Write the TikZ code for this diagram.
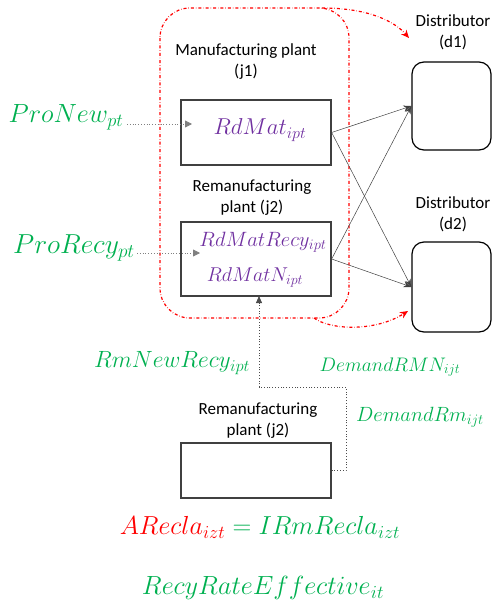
\documentclass[tikz,border=0pt]{standalone}
\usepackage{fix-cm}
\usepackage{fontspec}
\setmainfont{Carlito}
\usetikzlibrary{arrows.meta}
\definecolor{gr}{RGB}{0,176,80}
\definecolor{pu}{RGB}{112,48,160}
\definecolor{dg}{RGB}{64,64,64}
\begin{document}
\begin{tikzpicture}[x=1pt,y=-1pt,
  lbl/.style={inner sep=0pt,align=center,font=\fontsize{17}{21}\selectfont},
  box/.style={draw=dg,line width=1.3pt,minimum width=150pt,inner sep=0pt},
  dist/.style={draw=black,line width=1.2pt,rounded corners=12pt,minimum width=79pt,inner sep=0pt},
  var/.style={inner sep=0pt,text=gr},
  flow/.style={-{Stealth[length=8pt,width=6pt]},line width=0.5pt,draw=black!75},
  feed/.style={gray,dotted,line width=0.8pt,-{Triangle[length=7pt,width=7pt]}},
  redd/.style={red,dash dot,line width=1.2pt}]
\useasboundingbox (0,0) rectangle (492,608);
% red plant group
\draw[redd,rounded corners=30pt] (160,8) rectangle (349,318);
% labels
\node[lbl] (mlab) at (246,61.5) {Manufacturing plant\\(j1)};
\node[lbl] (rlab) at (252,198) {Remanufacturing\\plant (j2)};
\node[lbl] (d1lab) at (453,32.5) {Distributor\\(d1)};
\node[lbl] (d2lab) at (453,214) {Distributor\\(d2)};
\node[lbl] (r3lab) at (258,420.5) {Remanufacturing\\plant (j2)};
% boxes
\node[box,minimum height=65pt] (j1) at (256,132.5) {};
\node[inner sep=0pt,text=pu,font=\fontsize{23}{26}\selectfont] (t1) at (260,130) {$RdMat_{ipt}$};
\node[box,minimum height=74pt] (j2) at (256,259) {};
\node[inner sep=0pt,text=pu,font=\fontsize{20.7}{24}\selectfont] (t2) at (263,242) {$RdMatRecy_{ipt}$};
\node[inner sep=0pt,text=pu,font=\fontsize{20}{24}\selectfont] (t3) at (255,277) {$RdMatN_{ipt}$};
\node[box,minimum height=55pt] (j3) at (256,470.5) {};
\node[dist,minimum height=88pt] (d1) at (451.5,106) {};
\node[dist,minimum height=90pt] (d2) at (451.5,287) {};
% flows
\draw[flow] (j1.east) -- (d1.west);
\draw[flow] (j1.east) -- (d2.west);
\draw[flow] (j2.east) -- (d1.west);
\draw[flow] (j2.east) -- (d2.west);
% green variables
\node[var,font=\fontsize{26.3}{30}\selectfont] (pn) at (66,117) {$ProNew_{pt}$};
\node[var,font=\fontsize{27.5}{30}\selectfont] (pr) at (74,248) {$ProRecy_{pt}$};
\node[var,font=\fontsize{23.5}{28}\selectfont] (rnr) at (172,363) {$RmNewRecy_{ipt}$};
\node[var,font=\fontsize{19.6}{24}\selectfont] (drmn) at (390,367) {$DemandRMN_{ijt}$};
\node[var,font=\fontsize{20.6}{24}\selectfont] (drm) at (420,417) {$DemandRm_{ijt}$};
\node[var,font=\fontsize{26.1}{30}\selectfont] (eq) at (260,527) {$\textcolor{red}{ARecla_{izt}} = IRmRecla_{izt}$};
\node[var,font=\fontsize{26.3}{30}\selectfont] (rr) at (263,588) {$RecyRateEffective_{it}$};
% feed arrows
\coordinate (a1s) at (127,124); \coordinate (a1e) at (192,124);
\coordinate (a2s) at (137,253); \coordinate (a2e) at (200,253);
\draw[feed] (a1s) -- (a1e);
\draw[feed] (a2s) -- (a2e);
% return path
\coordinate (p1) at (346,470.5); \coordinate (p2) at (346,387); \coordinate (p3) at (259,387); \coordinate (p4) at (259,296);
\draw[black!70,dotted,line width=0.8pt,-{Triangle[length=7pt,width=6pt]}] (j3.east) -- (p1) -- (p2) -- (p3) -- (p4);
% red curved arrows
\coordinate (c1) at (322,8); \coordinate (c1e) at (409,38);
\draw[redd,-{Stealth[length=8pt,width=7pt]}] (c1) .. controls (370,8) and (395,22) .. (c1e);
\coordinate (c2) at (314,318); \coordinate (c2e) at (408,311);
\draw[redd,-{Stealth[length=8pt,width=7pt]}] (c2) .. controls (330,330) and (375,332) .. (c2e);
\end{tikzpicture}
\end{document}
